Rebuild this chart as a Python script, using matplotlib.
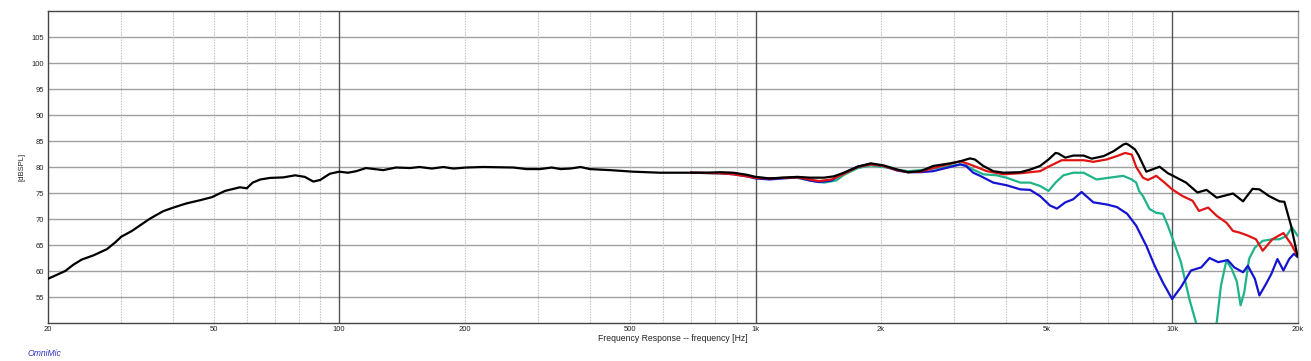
import matplotlib
matplotlib.use("Agg")
import matplotlib.pyplot as plt
from matplotlib.ticker import FixedLocator, NullFormatter, NullLocator

# ---------------- data ----------------
black_f = [20, 22, 23, 24.1, 25.7, 27.7, 29, 30, 31.8, 33.3, 35.2, 37.8, 40, 43, 46.3, 49.5,
           53.2, 57.8, 60, 62, 64.7, 68.2, 73.4, 78.4, 82.7, 86.7, 90, 95, 100, 105, 110, 116,
           127.6, 137, 148, 156, 167, 178, 188, 202, 222, 262, 282, 304, 324, 340, 359, 380,
           400, 447, 508, 590, 684, 764, 822, 885, 953, 1000, 1080, 1160, 1260, 1350, 1460,
           1540, 1630, 1760, 1890, 2030, 2190, 2320, 2490, 2670, 2930, 3100, 3270, 3360, 3520,
           3720, 3940, 4320, 4560, 4820, 5050, 5250, 5330, 5540, 5790, 6130, 6410, 6850, 7240,
           7630, 7750, 7850, 8140, 8300, 8670, 9330, 9770, 10000, 10800, 11500, 12100, 12800,
           14000, 14800, 15600, 16200, 17100, 18100, 18600, 19300, 20000]
black_db = [58.5, 60.0, 61.2, 62.2, 63.0, 64.2, 65.5, 66.6, 67.7, 68.8, 70.1, 71.5, 72.2, 73.0, 73.6, 74.2,
            75.4, 76.1, 75.9, 77.0, 77.6, 77.9, 78.0, 78.4, 78.1, 77.2, 77.5, 78.7, 79.1, 78.9, 79.2, 79.8,
            79.4, 79.9, 79.8, 80.0, 79.7, 80.0, 79.7, 79.9, 80.0, 79.9, 79.6, 79.6, 79.9, 79.6, 79.7, 80.0,
            79.6, 79.4, 79.1, 78.9, 78.9, 78.9, 79.0, 78.9, 78.5, 78.1, 77.8, 77.95, 78.1, 77.95, 77.95,
            78.2, 78.9, 80.05, 80.7, 80.3, 79.5, 79.0, 79.2, 80.2, 80.7, 81.1, 81.65, 81.45, 80.2,
            79.2, 78.9, 79.0, 79.5, 80.2, 81.45, 82.7, 82.6, 81.8, 82.2, 82.2, 81.6, 82.1, 83.05,
            84.3, 84.5, 84.3, 83.4, 82.3, 79.1, 80.05, 78.8, 78.4, 77.0, 75.1, 75.6, 74.1,
            74.9, 73.4, 75.8, 75.7, 74.4, 73.4, 73.3, 68.7, 62.9]

red_f = [700, 822, 885, 953, 1000, 1080, 1160, 1260, 1350, 1420, 1520, 1630, 1760, 1890, 2030,
         2190, 2320, 2490, 2670, 2930, 3100, 3270, 3590, 3940, 4320, 4820, 5090, 5430, 5790,
         6130, 6470, 6960, 7370, 7710, 8000, 8200, 8510, 8750, 9160, 9590, 10000, 10600, 11200,
         11600, 12200, 12800, 13500, 14000, 14500, 15100, 15900, 16500, 17400, 18500, 19300, 20000]
red_db = [78.9, 78.8, 78.6, 78.2, 77.9, 77.8, 77.9, 78.0, 77.6, 77.3, 77.6, 78.7, 80.0, 80.5, 80.2,
          79.4, 79.0, 79.1, 79.8, 80.6, 81.1, 80.5, 79.2, 78.6, 78.8, 79.2, 80.2, 81.3, 81.3,
          81.3, 81.0, 81.45, 82.1, 82.7, 82.4, 80.0, 77.95, 77.5, 78.3, 77.0, 75.7, 74.4, 73.5,
          71.55, 72.2, 70.6, 69.3, 67.7, 67.4, 66.9, 66.1, 63.9, 66.1, 67.3, 65.2, 62.9]

green_f = [700, 822, 885, 953, 1000, 1080, 1160, 1260, 1350, 1460, 1560, 1630, 1760, 1890, 2030,
           2190, 2320, 2490, 2670, 2930, 3100, 3200, 3330, 3520, 3790, 4000, 4320, 4560, 4820,
           5050, 5250, 5480, 5790, 6130, 6580, 7080, 7630, 8000, 8200, 8330, 8510, 8830, 9160,
           9500, 9770, 10100, 10500, 11000, 11400, 12000, 12800, 13100, 13500, 13900, 14300,
           14600, 14900, 15300, 15800, 16500, 17400, 18100, 18800, 19400, 20000]
green_db = [78.9, 78.8, 78.7, 78.3, 78.0, 77.8, 77.9, 77.9, 77.4, 77.0, 77.4, 78.5, 79.8, 80.3, 80.0,
            79.5, 79.2, 79.4, 79.7, 80.2, 80.5, 80.3, 79.5, 78.6, 78.4, 77.95, 77.0, 77.0, 76.35,
            75.4, 77.0, 78.4, 78.9, 78.9, 77.6, 77.95, 78.3, 77.6, 77.0, 75.4, 74.4, 71.9, 71.2,
            71.0, 68.7, 65.5, 61.7, 54.6, 50.2, 42.0, 50.2, 57.2, 62.0, 60.4, 58.0,
            53.4, 55.9, 62.3, 64.5, 65.8, 66.1, 66.1, 66.7, 68.4, 66.8]

blue_f = [700, 822, 885, 953, 1000, 1080, 1160, 1260, 1350, 1420, 1520, 1630, 1760, 1890, 2030,
          2190, 2320, 2490, 2670, 2930, 3100, 3200, 3330, 3460, 3720, 4000, 4320, 4560, 4820,
          5090, 5290, 5540, 5790, 6060, 6470, 6960, 7370, 7800, 8200, 8670, 9080, 9500, 10000,
          10500, 11100, 11750, 12300, 12900, 13600, 14100, 14800, 15200, 15800, 16200, 16800,
          17300, 17900, 18500, 19100, 19600, 20000]
blue_db = [78.9, 78.8, 78.6, 78.2, 77.8, 77.6, 77.8, 78.0, 77.4, 77.1, 77.4, 78.9, 80.1, 80.6, 80.2,
           79.3, 79.0, 79.0, 79.2, 80.0, 80.5, 80.2, 78.9, 78.3, 77.0, 76.5, 75.7, 75.6, 74.4,
           72.6, 72.0, 73.2, 73.8, 75.2, 73.2, 72.8, 72.3, 71.0, 68.7, 64.85, 61.0, 57.8, 54.6,
           56.9, 60.1, 60.7, 62.5, 61.7, 62.1, 60.7, 59.75, 61.0, 58.5, 55.3, 57.5,
           59.4, 62.3, 60.1, 62.3, 63.3, 62.7]

x_ticks = [20, 50, 100, 200, 500, 1000, 2000, 5000, 10000, 20000]
x_tick_labels = ["20", "50", "100", "200", "500", "1k", "2k", "5k", "10k", "20k"]
y_ticks = [55, 60, 65, 70, 75, 80, 85, 90, 95, 100, 105]
major_decades = [100, 1000, 10000]
minor_lines = [m * d for d in (10, 100, 1000) for m in range(2, 10) if 20 < m * d < 20000 and m * d not in (100, 1000, 10000)]

# ---------------- figure ----------------
plt.rcParams["font.family"] = ["Liberation Sans", "DejaVu Sans"]
fig = plt.figure(figsize=(13.11, 3.61), dpi=100)
ax = fig.add_axes([48 / 1311, 1 - 323 / 361, 1249.5 / 1311, 312 / 361])

ax.set_xscale("log")
ax.set_xlim(20, 20000)
ax.set_ylim(50, 110)

for y in y_ticks:
    ax.axhline(y, color="#a0a0a0", lw=1.0, zorder=1)
for f in minor_lines:
    ax.axvline(f, color="#bcbcbc", lw=0.8, ls=(0, (1.2, 1.2)), zorder=1)
for f in major_decades:
    ax.axvline(f, color="#555555", lw=1.0, zorder=1)

lw = 1.6
ax.plot(green_f, green_db, color="#1fb38a", lw=lw, zorder=3)
ax.plot(blue_f, blue_db, color="#1414d2", lw=lw, zorder=4)
ax.plot(red_f, red_db, color="#e01414", lw=lw, zorder=5)
ax.plot(black_f, black_db, color="#000000", lw=lw, zorder=6)

ax.xaxis.set_major_locator(FixedLocator(x_ticks))
ax.set_xticklabels(x_tick_labels)
ax.xaxis.set_minor_locator(NullLocator())
ax.xaxis.set_minor_formatter(NullFormatter())
ax.set_yticks(y_ticks)
ax.tick_params(axis="both", length=0, labelsize=5.5, colors="#222222", pad=3)
ax.tick_params(axis="x", pad=2)

for s in ("left", "bottom", "top"):
    ax.spines[s].set_color("#444444")
    ax.spines[s].set_linewidth(1.0)
ax.spines["right"].set_color("#999999")
ax.spines["right"].set_linewidth(1.0)

ax.set_xlabel("Frequency Response -- frequency [Hz]", fontsize=6.2, labelpad=1, color="#222222")
ax.set_ylabel("[dBSPL]", fontsize=5.5, labelpad=4, color="#222222")

fig.text(28 / 1311, 1 - 354 / 361, "OmniMic", color="#3232c0", fontsize=6.2,
         style="italic", va="center", ha="left")

fig.savefig("out.png", dpi=100)
